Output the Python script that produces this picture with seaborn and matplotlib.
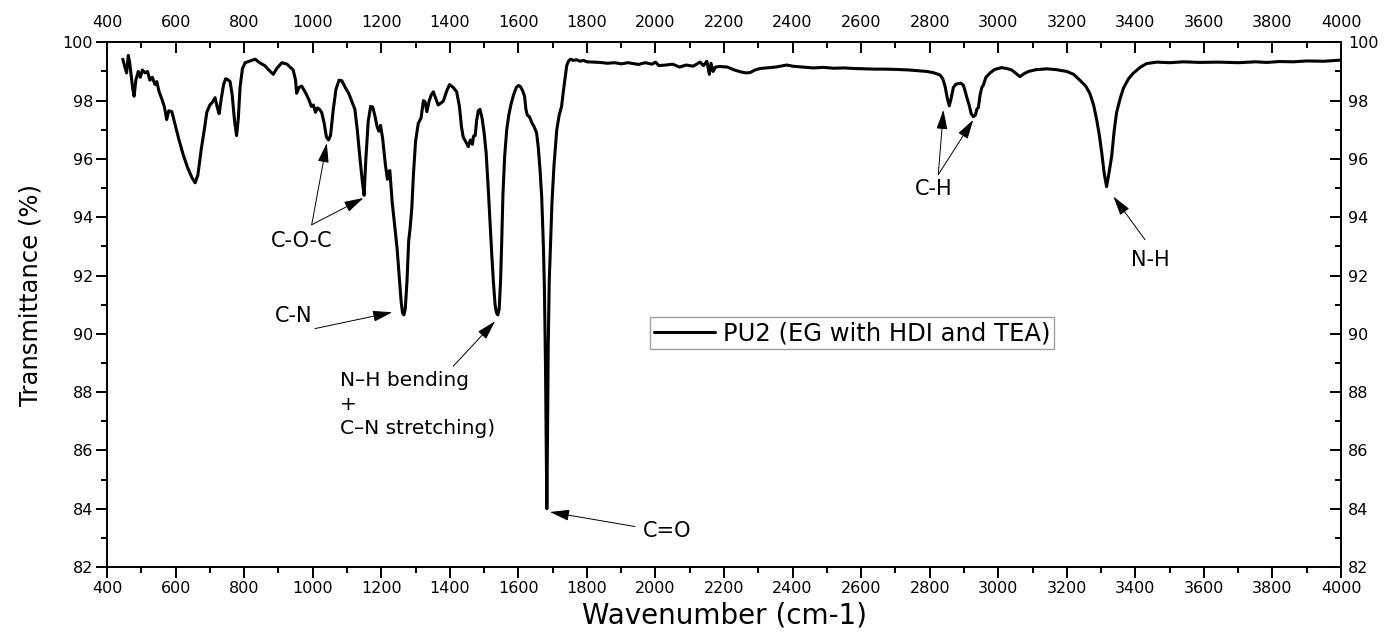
import matplotlib
matplotlib.use("Agg")
import matplotlib.pyplot as plt
import seaborn as sns
import pandas as pd
import numpy as np
from matplotlib.ticker import FixedLocator

wavenumber = [
    446, 452, 457, 462, 466, 470, 475, 479, 484, 491, 497, 503, 511, 518, 525, 532, 540, 545, 552, 560,
    567, 574, 580, 589, 598, 610, 622, 635, 648, 657, 665, 675, 685, 691, 700, 708, 715, 722, 727, 733,
    740, 746, 752, 759, 765, 772, 778, 783, 788, 795, 803, 815, 832, 845, 860, 872, 885, 895, 910, 925,
    943, 950, 953, 960, 968, 980, 990, 996, 1002, 1008, 1014, 1020, 1026, 1033, 1040, 1046, 1052, 1060,
    1068, 1077, 1085, 1095, 1105, 1115, 1123, 1130, 1138, 1145, 1150, 1155, 1162, 1169, 1175, 1182,
    1188, 1193, 1198, 1204, 1212, 1218, 1221, 1225, 1232, 1240, 1246, 1252, 1258, 1262, 1266, 1270,
    1275, 1280, 1284, 1289, 1294, 1300, 1308, 1316, 1323, 1328, 1333, 1340, 1346, 1352, 1358, 1366,
    1372, 1381, 1390, 1399, 1410, 1420, 1428, 1434, 1439, 1446, 1454, 1460, 1466, 1469, 1474, 1478,
    1483, 1488, 1494, 1500, 1506, 1512, 1517, 1522, 1527, 1532, 1536, 1540, 1544, 1548, 1551, 1555,
    1560, 1566, 1572, 1578, 1586, 1594, 1600, 1606, 1612, 1618, 1622, 1626, 1632, 1639, 1646, 1653,
    1658, 1663, 1668, 1673, 1676, 1679, 1681, 1683, 1685, 1687, 1690, 1694, 1698, 1704, 1712, 1719,
    1726, 1731, 1736, 1741, 1746, 1752, 1760, 1770, 1780, 1790, 1800, 1820, 1838, 1860, 1880, 1900,
    1920, 1935, 1950, 1970, 1990, 2000, 2010, 2030, 2050, 2070, 2090, 2110, 2130, 2140, 2150, 2157,
    2162, 2168, 2175, 2188, 2210, 2230, 2250, 2265, 2276, 2290, 2305, 2324, 2350, 2383, 2400, 2430,
    2460, 2490, 2519, 2550, 2580, 2610, 2640, 2665, 2700, 2740, 2770, 2791, 2810, 2830, 2838, 2845,
    2851, 2857, 2862, 2869, 2876, 2883, 2890, 2898, 2904, 2908, 2915, 2921, 2927, 2933, 2938, 2942,
    2947, 2952, 2956, 2964, 2976, 2990, 3010, 3025, 3039, 3050, 3063, 3075, 3088, 3110, 3141, 3170,
    3200, 3220, 3238, 3255, 3267, 3278, 3287, 3295, 3302, 3309, 3316, 3322, 3331, 3338, 3345, 3355,
    3365, 3380, 3394, 3415, 3433, 3462, 3500, 3540, 3588, 3640, 3700, 3750, 3783, 3820, 3860, 3900,
    3950, 4000,
]

transmittance = [
    99.42, 99.15, 98.95, 99.55, 99.30, 98.90, 98.40, 98.15, 98.70, 99.00, 98.80, 99.05, 98.95, 99.00,
    98.70, 98.80, 98.55, 98.65, 98.30, 98.05, 97.80, 97.35, 97.65, 97.62, 97.20, 96.65, 96.15, 95.70,
    95.35, 95.18, 95.45, 96.35, 97.10, 97.60, 97.85, 97.95, 98.10, 97.75, 97.55, 98.05, 98.55, 98.75,
    98.72, 98.65, 98.20, 97.30, 96.80, 97.40, 98.45, 99.10, 99.30, 99.35, 99.42, 99.30, 99.20, 99.05,
    98.90, 99.10, 99.30, 99.25, 99.05, 98.70, 98.25, 98.45, 98.50, 98.25, 98.00, 97.80, 97.85, 97.60,
    97.75, 97.70, 97.60, 97.25, 96.75, 96.65, 96.80, 97.70, 98.40, 98.70, 98.68, 98.45, 98.25, 97.95,
    97.70, 97.00, 96.00, 95.20, 94.75, 96.00, 97.30, 97.80, 97.78, 97.45, 97.10, 96.95, 97.15, 96.70,
    95.80, 95.30, 95.55, 95.60, 94.50, 93.60, 92.95, 92.00, 91.10, 90.72, 90.65, 90.85, 91.80, 93.20,
    93.60, 94.30, 95.50, 96.60, 97.22, 97.40, 98.00, 97.95, 97.62, 98.00, 98.20, 98.30, 98.10, 97.85,
    97.90, 97.98, 98.30, 98.55, 98.45, 98.30, 97.80, 97.10, 96.75, 96.60, 96.42, 96.65, 96.50, 96.78,
    96.80, 97.30, 97.65, 97.70, 97.40, 96.90, 96.20, 95.00, 93.90, 92.80, 91.80, 91.00, 90.72, 90.65,
    90.85, 91.80, 93.00, 94.80, 96.10, 97.00, 97.50, 97.85, 98.20, 98.45, 98.52, 98.48, 98.35, 98.15,
    97.70, 97.50, 97.45, 97.25, 97.10, 96.90, 96.40, 95.65, 94.70, 93.00, 91.50, 89.00, 86.50, 84.00,
    86.50, 89.50, 91.80, 93.20, 94.50, 95.80, 97.00, 97.50, 97.80, 98.30, 98.75, 99.20, 99.35, 99.42,
    99.38, 99.40, 99.35, 99.38, 99.33, 99.32, 99.31, 99.28, 99.30, 99.26, 99.30, 99.27, 99.24, 99.30,
    99.25, 99.32, 99.20, 99.22, 99.25, 99.15, 99.22, 99.18, 99.32, 99.20, 99.35, 98.90, 99.28, 99.00,
    99.15, 99.17, 99.15, 99.05, 98.98, 98.95, 98.96, 99.05, 99.10, 99.12, 99.15, 99.22, 99.18, 99.15,
    99.12, 99.14, 99.11, 99.12, 99.10, 99.09, 99.08, 99.08, 99.07, 99.05, 99.02, 99.00, 98.96, 98.88,
    98.75, 98.48, 98.10, 97.82, 98.05, 98.45, 98.56, 98.58, 98.60, 98.53, 98.30, 98.12, 97.85, 97.55,
    97.45, 97.50, 97.72, 97.76, 98.20, 98.45, 98.52, 98.80, 98.95, 99.07, 99.13, 99.10, 99.05, 98.95,
    98.82, 98.92, 99.00, 99.06, 99.09, 99.06, 99.00, 98.90, 98.70, 98.50, 98.25, 97.85, 97.35, 96.80,
    96.20, 95.50, 95.05, 95.45, 96.10, 96.95, 97.58, 98.05, 98.42, 98.75, 98.94, 99.15, 99.27, 99.32,
    99.30, 99.33, 99.31, 99.32, 99.30, 99.33, 99.31, 99.34, 99.33, 99.36, 99.35, 99.39,
]

series_label = "PU2 (EG with HDI and TEA)"
x_label = "Wavenumber (cm-1)"
y_label = "Transmittance (%)"
x_major_ticks = list(range(400, 4001, 200))
x_minor_ticks = list(range(500, 4000, 200))
y_major_ticks = list(range(82, 101, 2))
y_minor_ticks = list(range(83, 100, 2))

# annotations: label, text position, arrow tail, arrow heads
annotations = [
    ("C-O-C", (968, 93.17), (997, 93.74), [(1041, 96.54), (1148, 94.66)]),
    ("C-N", (943, 90.60), (1007, 90.18), [(1232, 90.74)]),
    ("C=O", (2033, 83.24), (1940, 83.39), [(1692, 83.89)]),
    ("C-H", (2811, 94.97), (2825, 95.46), [(2840, 97.68), (2927, 97.34)]),
    ("N-H", (3443, 92.54), (3428, 93.23), [(3336, 94.71)]),
]
bend_text = "N\u2013H bending\n+\nC\u2013N stretching)"
bend_pos = (1080, 87.58)
bend_tail = (1410, 88.89)
bend_head = (1532, 90.43)

sns.set_style("white")
plt.rcParams["font.family"] = ["DejaVu Sans"]
plt.rcParams["text.color"] = "black"
plt.rcParams["axes.labelcolor"] = "black"
plt.rcParams["xtick.color"] = "black"
plt.rcParams["ytick.color"] = "black"

df = pd.DataFrame({"wn": wavenumber, "T": transmittance, "series": series_label})

fig = plt.figure(figsize=(13.92, 6.35), dpi=100)
ax = fig.add_axes([0.0769, 0.107, 0.8865, 0.8264])

sns.lineplot(data=df, x="wn", y="T", hue="series", palette=["black"], linewidth=2.2,
             estimator=None, sort=False, ax=ax)

ax.set_xlim(400, 4000)
ax.set_ylim(82, 100)


def set_ticks(axis_obj, major, minor):
    axis_obj.set_major_locator(FixedLocator(major))
    axis_obj.set_minor_locator(FixedLocator(minor))


set_ticks(ax.xaxis, x_major_ticks, x_minor_ticks)
set_ticks(ax.yaxis, y_major_ticks, y_minor_ticks)

for s in ax.spines.values():
    s.set_linewidth(1.4)
    s.set_color("black")
    s.set_visible(True)

ax.tick_params(axis="both", which="major", direction="out", length=8, width=1.4,
               labelsize=11.5, color="black", pad=2)
ax.tick_params(axis="both", which="minor", direction="out", length=4.5, width=1.4, color="black")
ax.tick_params(axis="x", which="both", bottom=True, top=False)
ax.tick_params(axis="y", which="both", left=True, right=False)

secx = ax.secondary_xaxis("top")
set_ticks(secx.xaxis, x_major_ticks, x_minor_ticks)
secx.tick_params(which="major", direction="in", length=8, width=1.4, labelsize=11.5, pad=9)
secx.tick_params(which="minor", direction="in", length=4, width=1.4)
secx.spines["top"].set_linewidth(1.4)

secy = ax.secondary_yaxis("right")
set_ticks(secy.yaxis, y_major_ticks, y_minor_ticks)
secy.tick_params(which="major", direction="in", length=8, width=1.4, labelsize=11.5, pad=5)
secy.tick_params(which="minor", direction="in", length=4, width=1.4)
secy.spines["right"].set_linewidth(1.4)

ax.set_xlabel(x_label, fontsize=20)
ax.set_ylabel(y_label, fontsize=17.5)
ax.xaxis.set_label_coords(0.5, -0.066)
ax.yaxis.set_label_coords(-0.052, 0.518)

arrow_kw = dict(arrowstyle="-|>,head_length=0.6,head_width=0.17", color="black",
                lw=0.7, mutation_scale=20, shrinkA=0, shrinkB=0)
for label, tpos, tail, heads in annotations:
    ax.text(tpos[0], tpos[1], label, ha="center", va="center", fontsize=15)
    for h in heads:
        ax.annotate("", xy=h, xytext=tail, arrowprops=arrow_kw)

ax.text(bend_pos[0], bend_pos[1], bend_text, ha="left", va="center", fontsize=14.5,
        linespacing=1.35)
ax.annotate("", xy=bend_head, xytext=bend_tail, arrowprops=arrow_kw)

leg = ax.legend(loc="center", bbox_to_anchor=(0.604, 0.446), fontsize=17.5, frameon=True,
                fancybox=False, handlelength=2.5, handletextpad=0.35, borderpad=0.15,
                borderaxespad=0)
leg.get_frame().set_edgecolor("#888888")
leg.get_frame().set_linewidth(1.0)
for line in leg.get_lines():
    line.set_linewidth(2.2)

fig.savefig("out.png", dpi=100)
